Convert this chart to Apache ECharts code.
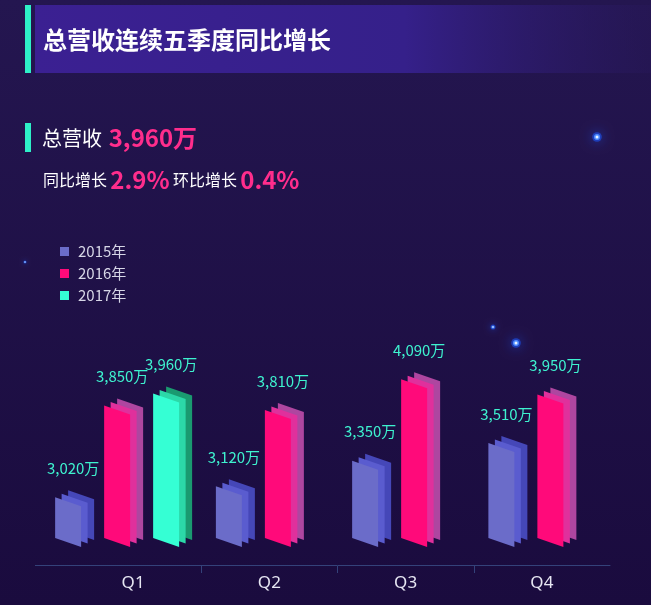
<!DOCTYPE html>
<html>
<head>
<meta charset="utf-8">
<script src="https://cdn.jsdelivr.net/npm/echarts@6/dist/echarts.min.js"></script>
<style>
  html, body { margin: 0; padding: 0; background: #1b0c41; }
  #main { width: 651px; height: 605px; }
</style>
</head>
<body>
<div id="main"></div>
<script>
// 季度与年份
var quarters = ['Q1', 'Q2', 'Q3', 'Q4'];
var years = ['2015年', '2016年', '2017年'];
// 各年每季度营收（万）
var rev2015 = [3020, 3120, 3350, 3510];
var rev2016 = [3850, 3810, 4090, 3950];
var rev2017 = [3960, null, null, null];
// 顶部汇总
var totalRev = '3,960万';
var yoy = '2.9%';
var qoq = '0.4%';

var allSeries = [rev2015, rev2016, rev2017];
// 每年三层颜色：正面、中层、后层
var palette = [
  ['#6b6cc9', '#5a5ccf', '#4547b8'],
  ['#ff0a7a', '#e0309c', '#ae46a0'],
  ['#35ffd4', '#2cd8a8', '#1a9a70']
];

var PITCH = 49, FRONT_W = 26, DX = 6.5, DY = 3.5, SKEW = 9, SHIFT = -9.5;
var AXIS_COLOR = '#34427a';

function fmt(v) {
  return String(v).replace(/\B(?=(\d{3})+(?!\d))/g, ',') + '万';
}

// 算出某季度里第 s 个序列的正面左边 x
function frontLeft(s, qi, center) {
  var present = [];
  for (var k = 0; k < allSeries.length; k++) {
    if (allSeries[k][qi] != null) present.push(k);
  }
  var n = present.length;
  var slot = present.indexOf(s);
  var groupW = (n - 1) * PITCH + FRONT_W + 2 * DX;
  return center + SHIFT - groupW / 2 + slot * PITCH;
}

function makeRender(s) {
  return function (params, api) {
    var qi = api.value(0);
    var v = api.value(1);
    var top = api.coord([qi, v]);
    var bot = api.coord([qi, 2650]);
    var x0 = frontLeft(s, qi, top[0]);
    var children = [];
    for (var k = 2; k >= 0; k--) {
      var x = x0 + k * DX;
      var yt = top[1] - k * DY;
      var yb = bot[1] - k * DY;
      children.push({
        type: 'polygon',
        shape: { points: [[x, yt], [x + FRONT_W, yt + SKEW], [x + FRONT_W, yb + SKEW], [x, yb]] },
        style: { fill: palette[s][k] }
      });
    }
    children.push({
      type: 'text',
      style: {
        text: fmt(v),
        x: x0 + 18,
        y: top[1] - 29,
        align: 'center',
        verticalAlign: 'middle',
        fill: '#3ef2cf',
        font: '15px "Noto Sans CJK SC", sans-serif'
      }
    });
    return { type: 'group', children: children };
  };
}

var series = [];
for (var s = 0; s < allSeries.length; s++) {
  var d = [];
  for (var i = 0; i < quarters.length; i++) {
    if (allSeries[s][i] != null) d.push([i, allSeries[s][i]]);
  }
  series.push({
    name: years[s],
    type: 'custom',
    renderItem: makeRender(s),
    itemStyle: { color: palette[s][0] },
    encode: { x: 0, y: 1 },
    data: d
  });
}

function star(x, y, r) {
  return {
    type: 'group',
    children: [
      { type: 'circle', shape: { cx: x, cy: y, r: r * 1.6 }, style: { fill: 'rgba(30,90,255,0.55)', shadowBlur: r * 4, shadowColor: '#1d5cff' } },
      { type: 'circle', shape: { cx: x, cy: y, r: r }, style: { fill: '#4f8dff' } },
      { type: 'circle', shape: { cx: x, cy: y, r: r * 0.5 }, style: { fill: '#e8f2ff' } }
    ]
  };
}

var option = {
  backgroundColor: {
    type: 'linear', x: 0, y: 0, x2: 0, y2: 1,
    colorStops: [{ offset: 0, color: '#241650' }, { offset: 1, color: '#1a0b3e' }]
  },
  animation: false,
  grid: [
    { left: 65, right: 41, top: 367, bottom: 67 },
    // 轴下方分隔短线用的窄网格
    { left: 65, right: 41, top: 566, height: 7 }
  ],
  legend: {
    orient: 'vertical',
    left: 55,
    top: 239,
    itemWidth: 9,
    itemHeight: 9,
    itemGap: 7,
    icon: 'rect',
    data: years,
    textStyle: { color: '#d6d6e6', fontSize: 15, padding: [0, 0, 0, 4], fontFamily: '"Noto Sans CJK SC", sans-serif' }
  },
  xAxis: [
    {
      type: 'category',
      data: quarters,
      offset: 27,
      axisLine: { show: true, lineStyle: { color: AXIS_COLOR, width: 1 } },
      axisTick: { show: false },
      axisLabel: { color: '#e6e6f2', fontSize: 17, margin: 10, fontFamily: '"Noto Sans", sans-serif' }
    },
    {
      type: 'category',
      gridIndex: 1,
      data: quarters,
      axisLine: { show: false },
      axisTick: { show: false },
      axisLabel: { show: false },
      splitLine: { show: true, showMinLine: false, showMaxLine: false, lineStyle: { color: AXIS_COLOR, width: 1 } }
    }
  ],
  yAxis: [
    { type: 'value', min: 2650, max: 4200, show: false },
    { type: 'value', gridIndex: 1, show: false, splitLine: { show: false } }
  ],
  graphic: [
    {
      type: 'rect', shape: { x: 35, y: 5, width: 616, height: 68 },
      style: {
        fill: {
          type: 'linear', x: 0, y: 0, x2: 1, y2: 0,
          colorStops: [{ offset: 0, color: '#3b2092' }, { offset: 0.6, color: '#35208a' }, { offset: 1, color: 'rgba(40,24,90,0.4)' }]
        }
      }
    },
    { type: 'rect', shape: { x: 25, y: 5, width: 6, height: 68 }, style: { fill: '#2ef0c8' } },
    {
      type: 'text', style: {
        text: '总营收连续五季度同比增长', x: 43, y: 40, verticalAlign: 'middle',
        fill: '#ffffff', font: 'bold 24px "Noto Sans CJK SC", sans-serif'
      }
    },
    { type: 'rect', shape: { x: 25, y: 123, width: 6, height: 29 }, style: { fill: '#2ef0c8' } },
    {
      type: 'text', style: {
        text: '{a|总营收}  {b|' + totalRev + '}', x: 42, y: 138, verticalAlign: 'middle',
        rich: {
          a: { fill: '#ffffff', font: '20px "Noto Sans CJK SC", sans-serif', verticalAlign: 'middle' },
          b: { fill: '#ff2d8c', font: 'bold 24px "Noto Sans CJK SC", sans-serif', verticalAlign: 'middle' }
        }
      }
    },
    {
      type: 'text', style: {
        text: '{a|同比增长} {b|' + yoy + '} {a|环比增长} {b|' + qoq + '}', x: 43, y: 180, verticalAlign: 'middle',
        rich: {
          a: { fill: '#ffffff', font: '16px "Noto Sans CJK SC", sans-serif', verticalAlign: 'middle' },
          b: { fill: '#ff2d8c', font: 'bold 24px "Noto Sans CJK SC", sans-serif', verticalAlign: 'middle' }
        }
      }
    },
    { type: 'line', shape: { x1: 35, y1: 565.5, x2: 65, y2: 565.5 }, style: { stroke: AXIS_COLOR, lineWidth: 1 } },
    star(597, 137, 3),
    star(516, 343, 3),
    star(493, 327, 1.6),
    star(25, 262, 1)
  ],
  series: series
};

var myChart = echarts.init(document.getElementById('main'));
myChart.setOption(option);
</script>
</body>
</html>
